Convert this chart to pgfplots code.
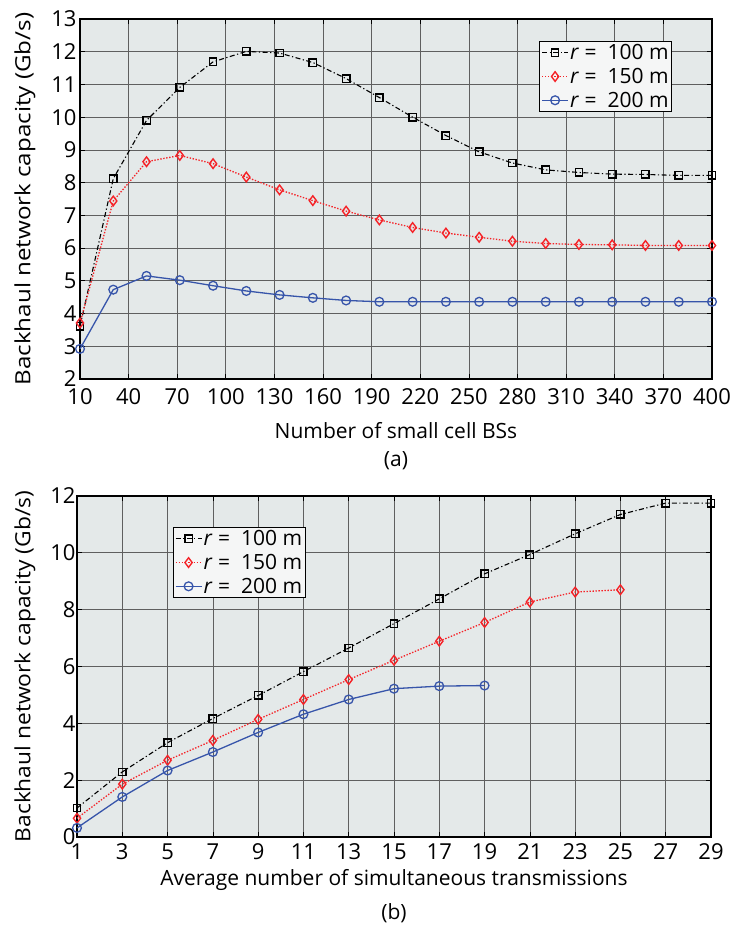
\documentclass[border=0pt]{standalone}
\usepackage{fontspec}
\setmainfont{Open Sans}
\usepackage{graphicx}
\usepackage{pgfplots}
\usepackage{pgfplotstable}
\pgfplotsset{compat=1.18}
\definecolor{bgc}{RGB}{228,233,233}
\definecolor{legc}{RGB}{245,246,246}
\definecolor{myred}{RGB}{245,35,40}
\definecolor{myblue}{RGB}{55,85,170}
\definecolor{gridc}{RGB}{95,95,95}

\pgfplotstableread{
x a b c
10 3.61 3.71 2.92
30.53 8.12 7.44 4.73
51.05 9.90 8.64 5.15
71.58 10.91 8.83 5.02
92.11 11.69 8.58 4.85
112.63 12.01 8.17 4.69
133.16 11.96 7.78 4.57
153.68 11.67 7.45 4.48
174.21 11.18 7.13 4.40
194.74 10.60 6.86 4.36
215.26 10.00 6.63 4.36
235.79 9.44 6.46 4.36
256.32 8.94 6.33 4.36
276.84 8.60 6.21 4.36
297.37 8.39 6.14 4.36
317.89 8.31 6.11 4.36
338.42 8.26 6.10 4.36
358.95 8.25 6.08 4.36
379.47 8.22 6.08 4.36
400 8.22 6.08 4.36
}\tabA

\pgfplotstableread{
x a
1 1.02
3 2.29
5 3.32
7 4.17
9 4.98
11 5.82
13 6.65
15 7.51
17 8.38
19 9.26
21 9.94
23 10.67
25 11.35
27 11.75
29 11.75
}\tabBa
\pgfplotstableread{
x b
1 0.66
3 1.86
5 2.70
7 3.40
9 4.14
11 4.84
13 5.54
15 6.22
17 6.89
19 7.55
21 8.27
23 8.62
25 8.70
}\tabBb
\pgfplotstableread{
x c
1 0.32
3 1.41
5 2.34
7 2.99
9 3.68
11 4.32
13 4.84
15 5.22
17 5.31
19 5.33
}\tabBc

\pgfplotsset{
  mystyle/.style={
    scale only axis,
    clip=false,
    axis background/.style={fill=bgc},
    grid=major,
    major grid style={gridc, line width=0.7pt},
    axis line style={line width=1.4pt},
    tick style={black, line width=0.7pt},
    tick align=inside,
    major tick length=5pt,
    /pgf/number format/assume math mode=true,
    ticklabel style={font=\fontsize{22}{22}\selectfont},
    label style={font=\fontsize{21}{21}\selectfont},
    legend style={fill=legc, draw=black, line width=0.9pt,
      font=\fontsize{21}{24}\selectfont, inner sep=1.5pt, row sep=4pt,
      nodes={inner sep=1.5pt}},
    legend cell align=left,
    legend image code/.code={%
      \draw[mark repeat=2,mark phase=2,##1] plot coordinates {(0pt,0pt)(13pt,0pt)(26pt,0pt)};},
  },
  sA/.style={black, line width=1.1pt, dash pattern=on 5pt off 2.5pt on 1.2pt off 2.5pt,
    mark=square, mark size=3.7pt, mark options={solid, line width=1.4pt, fill=none}},
  sB/.style={myred, line width=1.3pt, dash pattern=on 1.4pt off 1.6pt,
    mark=diamond, mark size=4.8pt, mark options={solid, line width=1.4pt, fill=none}},
  sC/.style={myblue, line width=1.3pt, solid,
    mark=o, mark size=4.4pt, mark options={solid, line width=1.3pt, fill=none}},
}

\begin{document}
\begin{tikzpicture}
\useasboundingbox (-80pt,-547pt) rectangle (670pt,379pt);
\begin{axis}[mystyle,
  at={(0pt,0pt)}, anchor=south west,
  width=632pt, height=360pt,
  xmin=10, xmax=400, ymin=2, ymax=13,
  xtick={10,40,...,400}, ytick={2,3,...,13},
  xticklabel style={yshift=-6pt},
  xlabel={Number of small cell BSs},
  ylabel={\scalebox{1.15}[1]{Backhaul network capacity (Gb/s)}},
  xlabel style={at={(axis description cs:0.5,-0.164)}, anchor=base},
  ylabel style={at={(axis description cs:-0.087,0.5)}, anchor=center},
  legend style={at={(axis description cs:0.9367,0.9389)}, anchor=north east},
]
\addplot[sA] table[x=x,y=a] {\tabA};
\addplot[sB] table[x=x,y=b] {\tabA};
\addplot[sC] table[x=x,y=c] {\tabA};
\legend{\textit{r}\ = \ 100 m, \textit{r}\ = \ 150 m, \textit{r}\ = \ 200 m}
\node[anchor=base, font=\fontsize{21}{21}\selectfont] at (axis description cs:0.5,-0.2417) {(a)};
\end{axis}

\begin{axis}[mystyle,
  at={(-3pt,-458pt)}, anchor=south west,
  width=634pt, height=341pt,
  xmin=1, xmax=29, ymin=0, ymax=12,
  xtick={1,3,...,29}, ytick={0,2,...,12},
  xticklabel style={yshift=-3pt},
  yticklabel style={xshift=2pt},
  xlabel={Average number of simultaneous transmissions},
  ylabel={\scalebox{1.085}[1]{Backhaul network capacity (Gb/s)}},
  xlabel style={at={(axis description cs:0.5,-0.1408)}, anchor=base},
  ylabel style={at={(axis description cs:-0.082,0.5)}, anchor=center},
  legend style={at={(axis description cs:0.1514,0.909)}, anchor=north west},
]
\addplot[sA] table[x=x,y=a] {\tabBa};
\addplot[sB] table[x=x,y=b] {\tabBb};
\addplot[sC] table[x=x,y=c] {\tabBc};
\legend{\textit{r}\ = \ 100 m, \textit{r}\ = \ 150 m, \textit{r}\ = \ 200 m}
\node[anchor=base, font=\fontsize{21}{21}\selectfont] at (axis description cs:0.5,-0.2405) {(b)};
\end{axis}
\end{tikzpicture}
\end{document}
